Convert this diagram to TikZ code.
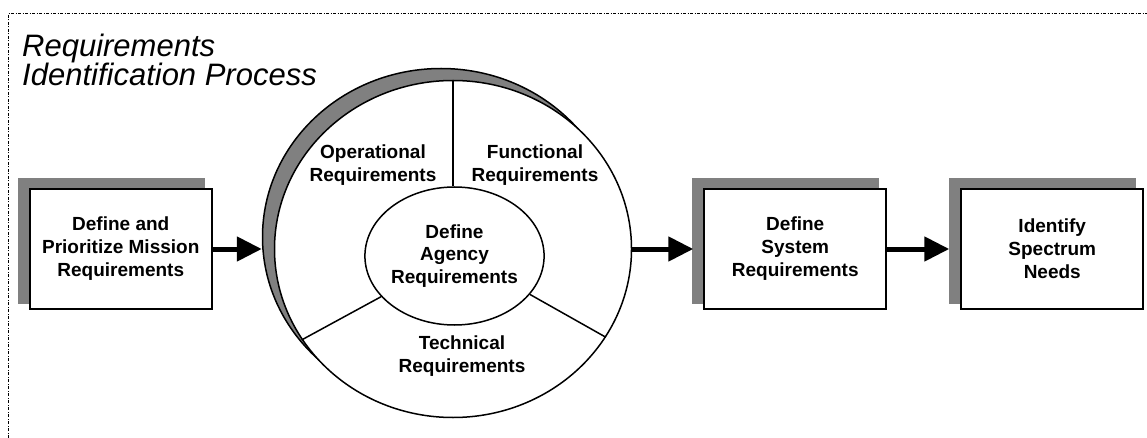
\documentclass[tikz,border=0pt]{standalone}
\usepackage{fontspec}
\setmainfont{Liberation Sans}
\usetikzlibrary{shapes.geometric, arrows.meta, positioning, backgrounds}
\tikzset{
  %% Process box
  pbox/.style={
    rectangle, draw=black, fill=white, line width=2pt,
    minimum width=182pt, minimum height=119pt,
    text centered, align=center, inner sep=2pt,
    font=\fontsize{19}{23}\selectfont\bfseries
  },
  %% Flat shadow behind a box
  boxshadow/.style={fill=black!50},
  %% Thick arrow
  arr/.style={-{Triangle[length=25pt,width=24pt]}, draw=black,
              line width=5pt},
  %% Ring pieces
  ringpart/.style={ellipse, draw=black, line width=1.5pt, inner sep=0pt},
  seglabel/.style={align=center,
                   font=\fontsize{19}{23.5}\selectfont\bfseries},
  %% Page frame
  frame/.style={line width=1pt,
                dash pattern=on 3pt off 1.5pt on 1pt off 1.5pt},
}

\begin{document}
\begin{tikzpicture}[x=1pt, y=-1pt]
  \useasboundingbox (0,0) rectangle (1147,438);

  %% Frame
  \draw[frame] (8,438) -- (8,14) -- (1147,14);

  %% Title
  \node[anchor=north west, inner sep=0pt, align=left,
        font=\fontsize{31}{29}\selectfont\itshape] (title) at (22,34)
        {Requirements\\Identification Process};

  %% Ring with its shadow
  \node[ringpart, fill=black!50, minimum width=357pt, minimum height=337pt]
        (ringshadow) at (441,237) {};
  \node[ringpart, fill=white, minimum width=357pt, minimum height=337pt]
        (ring) at (453,249) {};
  \node[ringpart, fill=white, minimum width=151pt, minimum height=138pt,
        font=\fontsize{19}{22.5}\selectfont\bfseries, align=center]
        (core) at (454.5,256) {Define\\Agency\\Requirements};

  %% Segment lines
  \draw[line width=1.5pt] (ring.north) -- (ring.north |- core.north);
  \draw[line width=1.5pt] (core.209) -- (ring.211);
  \draw[line width=1.5pt] (core.333) -- (ring.330);

  %% Segment labels
  \node[seglabel] (opreq)   at (373,165) {Operational\\Requirements};
  \node[seglabel] (funreq)  at (535,165) {Functional\\Requirements};
  \node[seglabel] (techreq) at (462,356) {Technical\\Requirements};

  %% Boxes
  \node[pbox, left=61pt of ring]  (b1)
        {Define and\\Prioritize Mission\\Requirements};
  \node[pbox, right=71pt of ring] (b3)
        {Define\\System\\Requirements};
  \node[pbox, right=73pt of b3]   (b4)
        {Identify\\Spectrum\\Needs};

  \begin{scope}[on background layer]
    \foreach \b in {b1, b3, b4}
      \fill[boxshadow] ([shift={(-11,-10)}]\b.north west)
                       rectangle ([shift={(-8,-6)}]\b.south east);
  \end{scope}

  %% Arrows
  \draw[arr] (b1.east) -- (b1.east -| ringshadow.west);
  \draw[arr, shorten >=10pt] (ring.east) -- (b3.west);
  \draw[arr, shorten >=11pt] (b3.east) -- (b4.west);

\end{tikzpicture}
\end{document}
